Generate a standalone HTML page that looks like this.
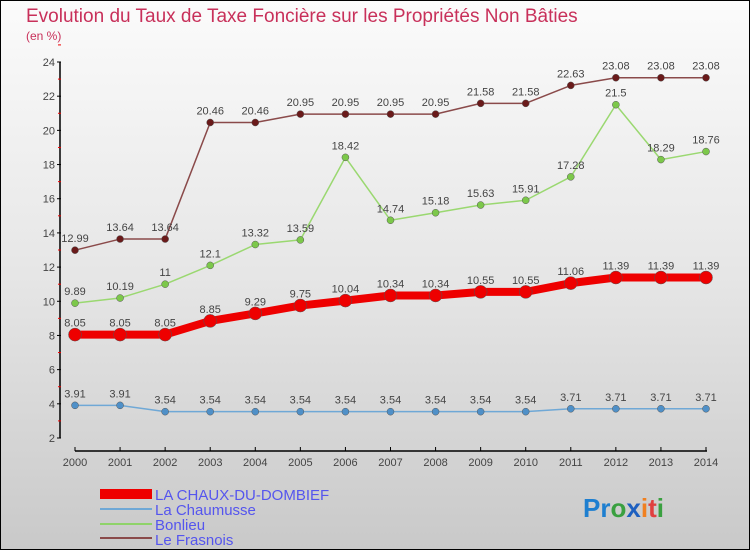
<!DOCTYPE html>
<html><head><meta charset="utf-8"><style>
body{margin:0}
#c{width:750px;height:550px;position:relative;box-sizing:border-box;border:1px solid #000;background:linear-gradient(#fbfbfb,#e6e6e6 50%,#c9c9c9);font-family:"Liberation Sans",sans-serif;overflow:hidden}
</style></head><body>
<div id="c">
<svg id="s" width="750" height="550" style="position:absolute;left:-1px;top:-1px">
<text x="26" y="22" font-size="19" fill="#c8305a">Evolution du Taux de Taxe Foncière sur les Propriétés Non Bâties</text>
<text x="26" y="40" font-size="12" fill="#c8305a">(en %)</text>
<g id="axes"></g><g id="series"></g>
<g>
<rect x="100" y="489" width="52" height="10" fill="#e00"/>
<line x1="100" y1="509" x2="152" y2="509" stroke="#6fa8d6" stroke-width="2"/>
<line x1="100" y1="524" x2="152" y2="524" stroke="#8fd36a" stroke-width="2"/>
<line x1="100" y1="538" x2="152" y2="538" stroke="#8a4a4a" stroke-width="2"/>
<text x="155" y="500" font-size="15" fill="#5555ee">LA CHAUX-DU-DOMBIEF</text>
<text x="155" y="515" font-size="15" fill="#5555ee">La Chaumusse</text>
<text x="155" y="530" font-size="15" fill="#5555ee">Bonlieu</text>
<text x="155" y="545" font-size="15" fill="#5555ee">Le Frasnois</text>
</g>
<text x="583" y="517" font-size="26" font-weight="bold"><tspan fill="#1e7fd0">Pr</tspan><tspan fill="#3aa040">o</tspan><tspan fill="#1e60c0">x</tspan><tspan fill="#f08020">i</tspan><tspan fill="#e04040">t</tspan><tspan fill="#3aa040">i</tspan></text>
</svg>
</div>
<script>
const years=[2000,2001,2002,2003,2004,2005,2006,2007,2008,2009,2010,2011,2012,2013,2014];
const chaux=[8.05,8.05,8.05,8.85,9.29,9.75,10.04,10.34,10.34,10.55,10.55,11.06,11.39,11.39,11.39];
const chaumusse=[3.91,3.91,3.54,3.54,3.54,3.54,3.54,3.54,3.54,3.54,3.54,3.71,3.71,3.71,3.71];
const bonlieu=[9.89,10.19,11,12.1,13.32,13.59,18.42,14.74,15.18,15.63,15.91,17.28,21.5,18.29,18.76];
const frasnois=[12.99,13.64,13.64,20.46,20.46,20.95,20.95,20.95,20.95,21.58,21.58,22.63,23.08,23.08,23.08];
const yTicks=[2,4,6,8,10,12,14,16,18,20,22,24];
const NS="http://www.w3.org/2000/svg";
const X=i=>75+i*(631/14);
const Y=v=>438-(v-2)*(376/22);
function mk(p,t,a){const e=document.createElementNS(NS,t);for(const k in a)e.setAttribute(k,a[k]);p.appendChild(e);return e;}
const ax=document.getElementById('axes');
let e=mk(ax,'line',{x1:60,y1:62,x2:60,y2:438,stroke:'#000','stroke-width':1.5});


e=mk(ax,'line',{x1:75,y1:451,x2:707,y2:451,stroke:'#000','stroke-width':1.5});


yTicks.forEach(v=>{
 mk(ax,'line',{x1:57,y1:Y(v),x2:61,y2:Y(v),stroke:'#000'});
 mk(ax,'line',{x1:58,y1:Y(v+1),x2:61,y2:Y(v+1),stroke:'#e00'});
 const t=mk(ax,'text',{x:55,y:Y(v)+4,'font-size':11,fill:'#444','text-anchor':'end'});t.textContent=v;
 
 
});
years.forEach((y,i)=>{
 mk(ax,'line',{x1:X(i),y1:447,x2:X(i),y2:451,stroke:'#000'});
 const t=mk(ax,'text',{x:X(i),y:466,'font-size':11,fill:'#444','text-anchor':'middle'});t.textContent=y;
 
 
});
const sg=document.getElementById('series');
function draw(vals,color,w,r,dot,name){
 const p=mk(sg,'polyline',{points:vals.map((v,i)=>X(i)+','+Y(v)).join(' '),fill:'none',stroke:color,'stroke-width':w,'stroke-linejoin':'round'});
 
 
 vals.forEach((v,i)=>{
  const c=mk(sg,'circle',{cx:X(i),cy:Y(v),r:r,fill:dot,stroke:'#555','stroke-width':0.5});
  
  
  const t=mk(sg,'text',{x:X(i),y:Y(v)-8,'font-size':11,fill:'#444','text-anchor':'middle'});t.textContent=v;
  
  
 });
}
draw(frasnois,'#8a4a4a',1.5,3.5,'#6a1a1a','frasnois');
draw(bonlieu,'#9ad870',1.5,3.5,'#7cc84a','bonlieu');
draw(chaumusse,'#6fa8d6',1.5,3.5,'#4f90c8','chaumusse');
draw(chaux,'#e00',8,6.5,'#e00','chaux');
</script>
</body></html>
